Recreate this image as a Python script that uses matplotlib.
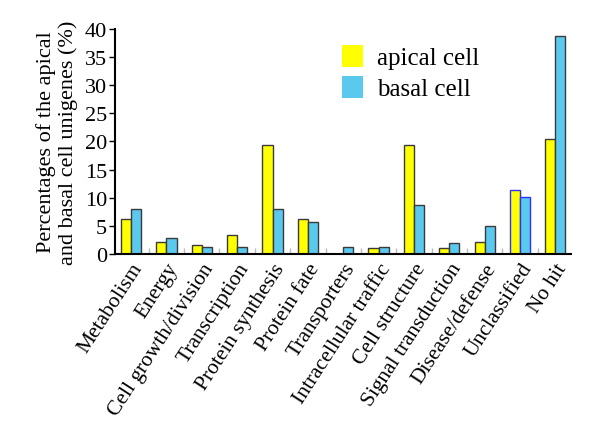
import numpy as np
import matplotlib
matplotlib.use('Agg')
import matplotlib.pyplot as plt

plt.rcParams['font.family'] = ['Liberation Serif', 'DejaVu Serif']

# categories and percentages
categories = ['Metabolism', 'Energy', 'Cell growth/division', 'Transcription',
              'Protein synthesis', 'Protein fate', 'Transporters',
              'Intracellular traffic', 'Cell structure', 'Signal transduction',
              'Disease/defense', 'Unclassified', 'No hit']
apical = [6.2, 2.1, 1.6, 3.4, 19.4, 6.2, 0.0, 1.1, 19.4, 1.1, 2.1, 11.3, 20.5]
basal = [8.0, 2.9, 1.25, 1.25, 8.0, 5.7, 1.25, 1.25, 8.7, 2.0, 5.0, 10.1, 38.8]
yticks = [0, 5, 10, 15, 20, 25, 30, 35, 40]

yellow = '#FFFF00'
blue = '#5BC8EE'

fig = plt.figure(figsize=(6, 4.27), dpi=100)
ax = fig.add_axes([0.192, 0.403, 0.76, 0.527])

x = np.arange(len(categories))
w = 0.285
# edge colours: the Unclassified pair is outlined in blue in the original
edges = ['#3a3a3a'] * len(categories)
edges[categories.index('Unclassified')] = '#3030FF'

ax.bar(x - w / 2, apical, w, color=yellow, edgecolor=edges, linewidth=1.0,
       label='apical cell')
ax.bar(x + w / 2, basal, w, color=blue, edgecolor=edges, linewidth=1.0,
       label='basal cell')

ax.set_xlim(-0.45, len(categories) - 0.55)
ax.set_ylim(0, 40)
ax.set_yticks(yticks)
ax.tick_params(axis='y', direction='out', length=4, width=1, labelsize=16, pad=2)

ax.set_xticks(x)
ax.set_xticklabels(categories, rotation=57, ha='right', rotation_mode='anchor',
                   fontsize=15.5)
ax.tick_params(axis='x', which='major', length=0, pad=4)
ax.set_xticks(x[:-1] + 0.5, minor=True)
ax.tick_params(axis='x', which='minor', direction='in', length=4,
               color='#bbbbbb', width=1)

for s in ['top', 'right']:
    ax.spines[s].set_visible(False)
for s in ['left', 'bottom']:
    ax.spines[s].set_linewidth(1.5)
    ax.spines[s].set_color('black')

ax.set_ylabel('Percentages of the apical\nand basal cell unigenes (%)',
              fontsize=16, linespacing=1.1, labelpad=5)

leg = ax.legend(loc='upper left', bbox_to_anchor=(0.475, 0.975), frameon=False,
                fontsize=18, handlelength=0.85, handleheight=1.0,
                handletextpad=0.55, labelspacing=0.25, borderaxespad=0)
for h in leg.legend_handles:
    h.set_edgecolor('none')

fig.savefig('out.png', dpi=100)
